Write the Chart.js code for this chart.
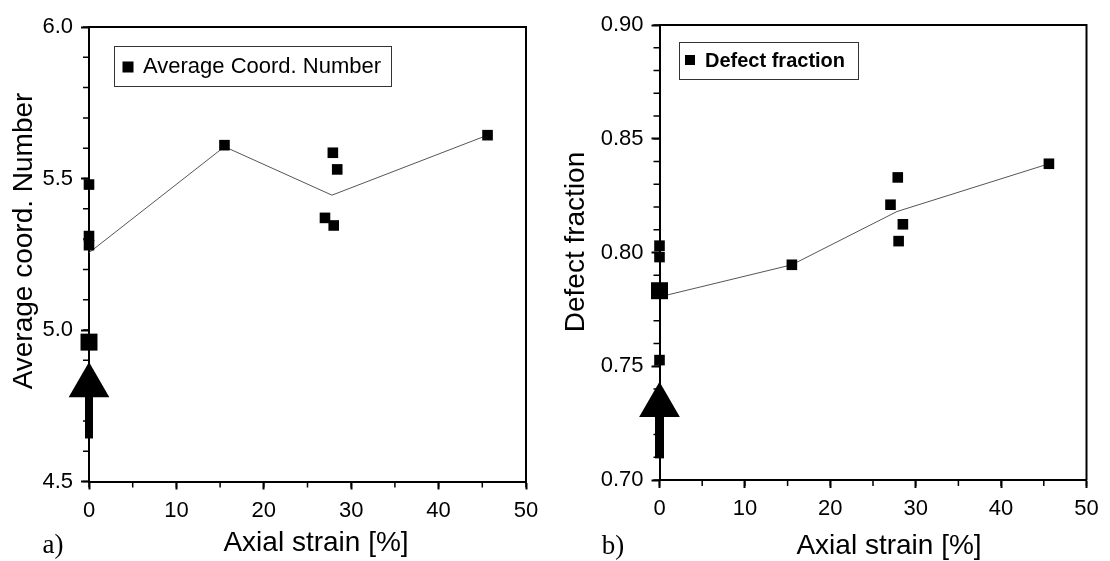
<!DOCTYPE html>
<html>
<head>
<meta charset="utf-8">
<script src="https://cdn.jsdelivr.net/npm/chart.js@4.4.1/dist/chart.umd.min.js"></script>
<style>
  body { margin: 0; background: #fff; width: 1110px; height: 561px; position: relative; overflow: hidden; }
  .panel { position: absolute; top: 0; width: 555px; height: 561px; }
</style>
</head>
<body>
<div class="panel" style="left:0"><canvas id="chartA"></canvas></div>
<div class="panel" style="left:555px"><canvas id="chartB"></canvas></div>
<script>
// a) average coordination number
var strainA = [0, 0, 0, 0, 15.5, 27.0, 27.9, 28.0, 28.4, 45.6];
var coordNumber = [5.48, 5.31, 5.28, 4.96, 5.61, 5.37, 5.585, 5.345, 5.53, 5.643];
var avgStrainA = [0, 15.5, 27.8, 45.6];
var avgCoord = [5.255, 5.605, 5.445, 5.643];
var arrowA = [4.642, 4.80];        // shaft bottom, shaft top
var arrowHeadA = 4.817;

// b) defect fraction
var strainB = [0, 0, 0, 0, 15.5, 27.05, 27.9, 28.0, 28.5, 45.6];
var defectFraction = [0.803, 0.798, 0.7832, 0.7527, 0.7946, 0.821, 0.833, 0.805, 0.8124, 0.839];
var avgStrainB = [0, 15.5, 27.8, 45.6];
var avgDefect = [0.7805, 0.7946, 0.818, 0.839];
var arrowB = [0.7095, 0.735];
var arrowHeadB = 0.7329;

var xTicks = [0, 10, 20, 30, 40, 50];
var yTicksA = [4.5, 5.0, 5.5, 6.0];
var yTicksB = [0.70, 0.75, 0.80, 0.85, 0.90];

var FONT = "'Liberation Sans', Arial, sans-serif";
var SERIF = "'Liberation Serif', 'Times New Roman', serif";

function pts(xs, ys) {
    return xs.map(function (x, i) { return { x: x, y: ys[i] }; });
}

// frame, minor ticks, legend box and labels
var decorPlugin = {
    id: 'decor',
    afterDraw: function (chart, args, o) {
        var ctx = chart.ctx, a = chart.chartArea;
        var sx = chart.scales.x, sy = chart.scales.y;
        ctx.save();
        ctx.strokeStyle = '#000';
        ctx.lineWidth = 2;
        ctx.beginPath();
        ctx.moveTo(a.left, a.top);
        ctx.lineTo(a.right, a.top);
        ctx.lineTo(a.right, a.bottom);
        ctx.stroke();

        // minor ticks
        ctx.lineWidth = 1.5;
        ctx.beginPath();
        for (var v = sx.min; v <= sx.max + 1e-9; v += o.minorX) {
            var px = sx.getPixelForValue(v);
            ctx.moveTo(px, a.bottom);
            ctx.lineTo(px, a.bottom + 6);
        }
        for (var k = 0; sy.min + k * o.minorY <= sy.max + 1e-9; k++) {
            var py = sy.getPixelForValue(sy.min + k * o.minorY);
            ctx.moveTo(a.left, py);
            ctx.lineTo(a.left - 6, py);
        }
        ctx.stroke();

        // legend
        var L = o.legend;
        ctx.lineWidth = 1;
        ctx.strokeStyle = '#333';
        ctx.strokeRect(L.x + 0.5, L.y + 0.5, L.w, L.h);
        ctx.fillStyle = '#000';
        ctx.fillRect(L.mx - L.ms / 2, L.my - L.ms / 2, L.ms, L.ms);
        ctx.font = L.font;
        ctx.textAlign = 'left';
        ctx.textBaseline = 'middle';
        ctx.fillText(L.text, L.tx, L.ty);

        // axis titles
        ctx.font = '28px ' + FONT;
        ctx.textAlign = 'center';
        ctx.fillText(o.xTitle, o.xTitlePos[0], o.xTitlePos[1]);
        ctx.save();
        ctx.translate(o.yTitlePos[0], o.yTitlePos[1]);
        ctx.rotate(-Math.PI / 2);
        ctx.fillText(o.yTitle, 0, 0);
        ctx.restore();

        // panel tag
        ctx.font = '27px ' + SERIF;
        ctx.fillText(o.tag, o.tagPos[0], o.tagPos[1]);
        ctx.restore();
    }
};

function makePanel(id, p) {
    var ctx = document.getElementById(id).getContext('2d');
    return new Chart(ctx, {
        type: 'scatter',
        data: {
            datasets: [
                {
                    label: p.label,
                    data: pts(p.xs, p.ys),
                    showLine: false,
                    pointStyle: 'rect',
                    pointRadius: p.ys.map(function (v, i) { return i === p.big ? 12 : 7.5; }),
                    pointBackgroundColor: '#000',
                    pointBorderWidth: 0,
                    clip: false
                },
                {
                    label: 'arrow head',
                    data: [{ x: 0, y: p.head }],
                    showLine: false,
                    pointStyle: 'triangle',
                    pointRadius: 23.5,
                    pointBackgroundColor: '#000',
                    pointBorderWidth: 0,
                    clip: false
                },
                {
                    label: 'arrow shaft',
                    data: [{ x: 0, y: p.shaft[0] }, { x: 0, y: p.shaft[1] }],
                    showLine: true,
                    borderColor: '#000',
                    borderWidth: p.shaftWidth,
                    borderCapStyle: 'butt',
                    pointRadius: 0,
                    clip: false
                },
                {
                    label: 'average',
                    data: pts(p.avgX, p.avgY),
                    showLine: true,
                    borderColor: '#555',
                    borderWidth: 1,
                    pointRadius: 0,
                    clip: false
                }
            ]
        },
        options: {
            responsive: true,
            maintainAspectRatio: false,
            animation: false,
            events: [],
            layout: { padding: p.padding },
            plugins: {
                legend: { display: false },
                tooltip: { enabled: false },
                decor: p.decor
            },
            scales: {
                x: {
                    type: 'linear',
                    min: 0,
                    max: 50,
                    afterBuildTicks: function (s) { s.ticks = xTicks.map(function (v) { return { value: v }; }); },
                    ticks: {
                        color: '#000',
                        font: { family: FONT, size: 22 },
                        padding: 8,
                        maxRotation: 0
                    },
                    grid: { drawOnChartArea: false, drawTicks: true, tickLength: 8, tickColor: '#000', tickWidth: 2 },
                    border: { color: '#000', width: 2 },
                    afterFit: function (s) { s.height = p.xHeight; }
                },
                y: {
                    type: 'linear',
                    min: p.yMin,
                    max: p.yMax,
                    afterBuildTicks: function (s) { s.ticks = p.yTicks.map(function (v) { return { value: v }; }); },
                    ticks: {
                        color: '#000',
                        font: { family: FONT, size: 22 },
                        padding: 8,
                        callback: function (v) { return v.toFixed(p.digits); }
                    },
                    grid: { drawOnChartArea: false, drawTicks: true, tickLength: 8, tickColor: '#000', tickWidth: 2 },
                    border: { color: '#000', width: 2 },
                    afterFit: function (s) { s.width = p.yWidth; }
                }
            }
        },
        plugins: [decorPlugin]
    });
}

makePanel('chartA', {
    label: 'Average Coord. Number',
    xs: strainA, ys: coordNumber, big: 3,
    avgX: avgStrainA, avgY: avgCoord,
    shaft: arrowA, head: arrowHeadA, shaftWidth: 8,
    yMin: 4.5, yMax: 6.0, yTicks: yTicksA, digits: 1,
    padding: { top: 27, right: 29, left: 0, bottom: 0 },
    xHeight: 79.5, yWidth: 89,
    decor: {
        minorX: 5, minorY: 0.1,
        legend: { x: 114, y: 46, w: 277, h: 40, mx: 128, my: 67, ms: 11,
                  tx: 143, ty: 67, text: 'Average Coord. Number', font: '22px ' + FONT },
        xTitle: 'Axial strain [%]', xTitlePos: [316, 543],
        yTitle: 'Average coord. Number', yTitlePos: [24, 241],
        tag: 'a)', tagPos: [53, 546]
    }
});

makePanel('chartB', {
    label: 'Defect fraction',
    xs: strainB, ys: defectFraction, big: 2,
    avgX: avgStrainB, avgY: avgDefect,
    shaft: arrowB, head: arrowHeadB, shaftWidth: 9,
    yMin: 0.70, yMax: 0.90, yTicks: yTicksB, digits: 2,
    padding: { top: 25, right: 11.5, left: 0, bottom: 0 },
    xHeight: 81, yWidth: 104.5,
    decor: {
        minorX: 5, minorY: 0.01,
        legend: { x: 124, y: 42, w: 179, h: 37, mx: 135, my: 60, ms: 10,
                  tx: 150, ty: 61, text: 'Defect fraction', font: 'bold 20px ' + FONT },
        xTitle: 'Axial strain [%]', xTitlePos: [334, 546],
        yTitle: 'Defect fraction', yTitlePos: [21, 242],
        tag: 'b)', tagPos: [58, 547]
    }
});
</script>
</body>
</html>
